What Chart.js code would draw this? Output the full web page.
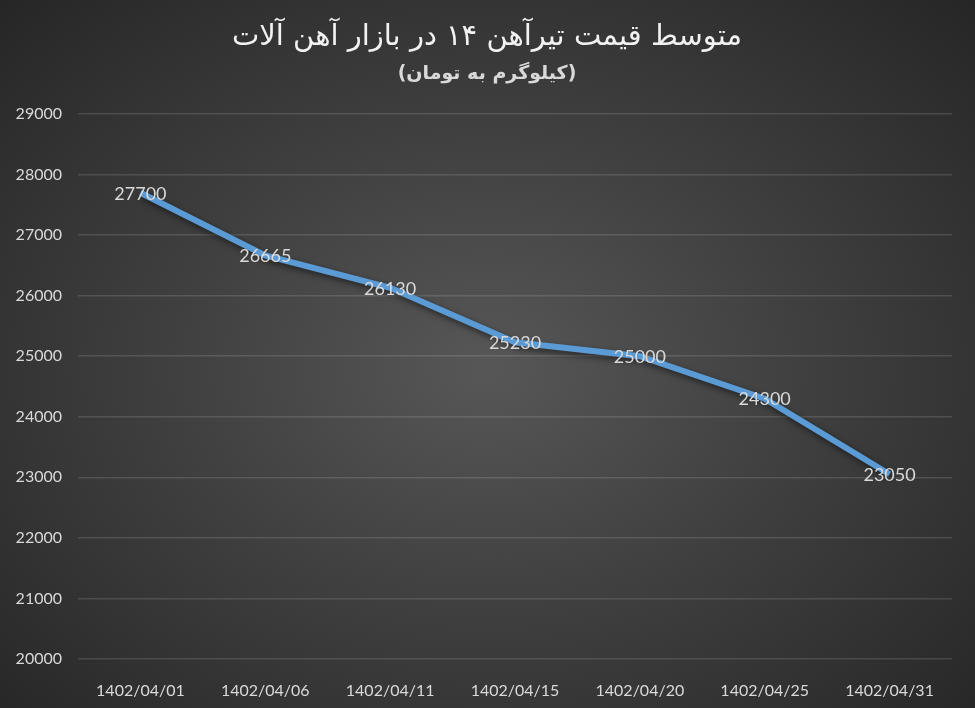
<!DOCTYPE html>
<html>
<head>
<meta charset="utf-8">
<script src="https://cdn.jsdelivr.net/npm/chart.js@4/dist/chart.umd.min.js"></script>
<style>
  html, body { margin: 0; padding: 0; }
  body {
    width: 975px; height: 708px; overflow: hidden;
    background: radial-gradient(ellipse at 50% 52%, #575757 0%, #404040 45%, #262626 100%);
  }
  #wrap { position: relative; width: 975px; height: 708px; }
</style>
</head>
<body>
<div id="wrap"><canvas id="priceChart"></canvas></div>
<script>
// Average price of IPE 14 beam (toman per kg)

const dates = ['1402/04/01', '1402/04/06', '1402/04/11', '1402/04/15', '1402/04/20', '1402/04/25', '1402/04/31'];
const prices = [27700, 26665, 26130, 25230, 25000, 24300, 23050];
const yTicks = [20000, 21000, 22000, 23000, 24000, 25000, 26000, 27000, 28000, 29000];

const titleText = 'متوسط قیمت تیرآهن ۱۴ در بازار آهن آلات';
const subtitleText = '(کیلوگرم به تومان)';

const textColor = '#d9d9d9';

// titles drawn right-to-left
const titlesPlugin = {
    id: 'titles',
    afterDraw(chart) {
        const ctx = chart.ctx;
        ctx.save();
        ctx.direction = 'rtl';
        ctx.textAlign = 'center';
        ctx.textBaseline = 'middle';
        ctx.fillStyle = '#f2f2f2';
        ctx.font = '29px "DejaVu Sans"';
        ctx.fillText(titleText, 487, 37);
        ctx.fillStyle = textColor;
        ctx.font = 'bold 19px "DejaVu Sans"';
        ctx.fillText(subtitleText, 487, 74);
        ctx.restore();
    }
};

// shadow under the line + value labels on the points
const lineLabels = {
    id: 'lineLabels',
    beforeDatasetsDraw(chart) {
        const ctx = chart.ctx;
        ctx.save();
        ctx.shadowColor = 'rgba(0,0,0,0.55)';
        ctx.shadowBlur = 6;
        ctx.shadowOffsetX = 2;
        ctx.shadowOffsetY = 3;
    },
    afterDatasetsDraw(chart) {
        const ctx = chart.ctx;
        ctx.restore();
        ctx.save();
        ctx.font = '18px Lato';
        ctx.fillStyle = textColor;
        ctx.textAlign = 'center';
        ctx.textBaseline = 'middle';
        chart.getDatasetMeta(0).data.forEach((pt, i) => {
            ctx.fillText(String(prices[i]), pt.x, pt.y + 1);
        });
        ctx.restore();
    }
};

const config = {
    type: 'line',
    data: {
        labels: dates,
        datasets: [{
            data: prices,
            borderColor: '#5b9bd5',
            borderWidth: 6,
            pointRadius: 0,
            tension: 0,
            fill: false
        }]
    },
    options: {
        responsive: false,
        animation: false,
        layout: { padding: { top: 114, left: 0, right: 23, bottom: 0 } },
        plugins: {
            legend: { display: false },
            tooltip: { enabled: false }
        },
        scales: {
            x: {
                offset: true,
                grid: { display: false, offset: true },
                border: { display: false },
                ticks: { color: textColor, font: { family: 'Lato', size: 16 }, padding: 14, maxRotation: 0 },
                afterFit(scale) { scale.height = 49; }
            },
            y: {
                min: 20000,
                max: 29000,
                afterBuildTicks(scale) { scale.ticks = yTicks.map(v => ({ value: v })); },
                grid: { color: 'rgba(255,255,255,0.13)', lineWidth: 1.5, drawTicks: false },
                border: { display: false },
                ticks: {
                    color: textColor,
                    font: { family: 'Lato', size: 16 },
                    padding: 16,
                    callback: v => String(v)
                },
                afterFit(scale) { scale.width = 78; }
            }
        }
    },
    plugins: [titlesPlugin, lineLabels]
};

const canvas = document.getElementById('priceChart');
canvas.width = 975;
canvas.height = 708;
const priceChart = new Chart(canvas, config);
</script>
</body>
</html>
